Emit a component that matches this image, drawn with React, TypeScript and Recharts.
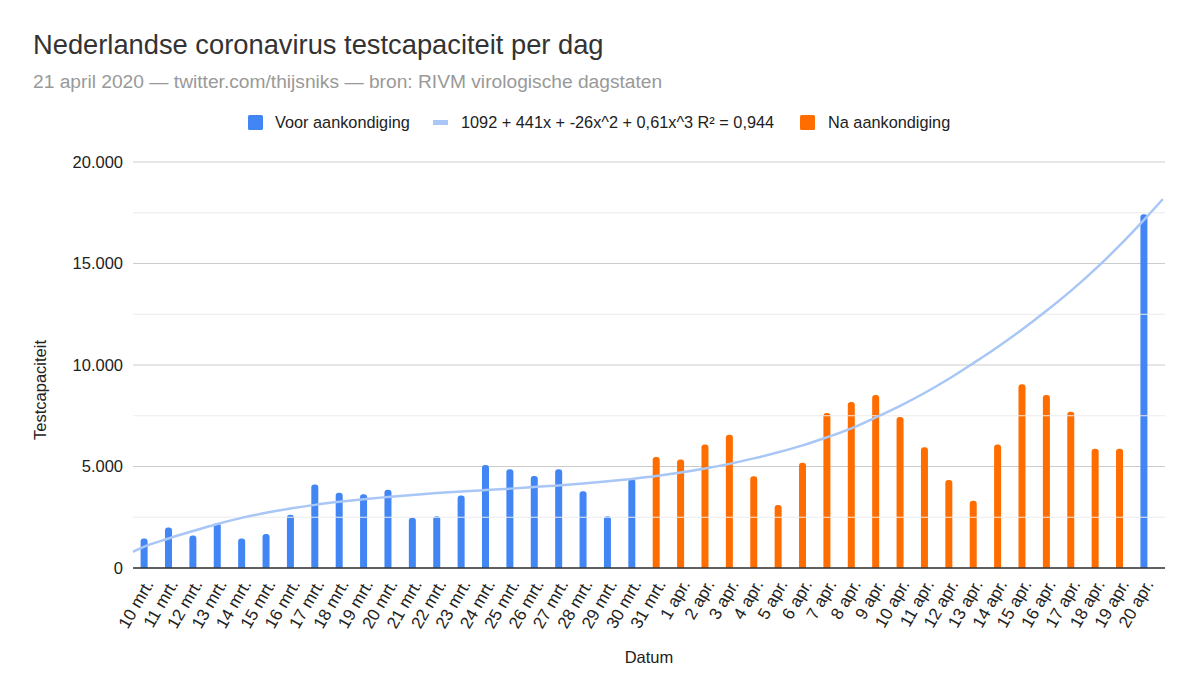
import {
  ComposedChart,
  Bar,
  Line,
  XAxis,
  YAxis,
  CartesianGrid,
  ReferenceLine,
} from "recharts";

const FONT = "'Liberation Sans', Arial, Helvetica, sans-serif";

const dates = [
  "10 mrt.", "11 mrt.", "12 mrt.", "13 mrt.", "14 mrt.", "15 mrt.", "16 mrt.",
  "17 mrt.", "18 mrt.", "19 mrt.", "20 mrt.", "21 mrt.", "22 mrt.", "23 mrt.",
  "24 mrt.", "25 mrt.", "26 mrt.", "27 mrt.", "28 mrt.", "29 mrt.", "30 mrt.",
  "31 mrt.", "1 apr.", "2 apr.", "3 apr.", "4 apr.", "5 apr.", "6 apr.",
  "7 apr.", "8 apr.", "9 apr.", "10 apr.", "11 apr.", "12 apr.", "13 apr.",
  "14 apr.", "15 apr.", "16 apr.", "17 apr.", "18 apr.", "19 apr.", "20 apr.",
];

// tests per day
const capacity = [
  1450, 2000, 1600, 2210, 1450, 1670, 2620, 4110, 3710, 3630, 3850,
  2480, 2550, 3570, 5070, 4870, 4530, 4870, 3780, 2550, 4390,
  5470, 5340, 6080, 6560, 4520, 3100, 5190, 7640, 8180, 8520,
  7440, 5950, 4330, 3310, 6080, 9050, 8520, 7700, 5880, 5880, 17420,
];

// days that count as "Na aankondiging" (31 mrt. t/m 19 apr.)
const afterAnnouncement = dates.map((_, i) => i >= 21 && i <= 40);

// polynomial trendline read at each day
const trend = [
  1050, 1450, 1820, 2170, 2470, 2720, 2930, 3110, 3260, 3390, 3500,
  3600, 3690, 3770, 3840, 3910, 3990, 4070, 4160, 4270, 4390,
  4530, 4700, 4900, 5130, 5400, 5700, 6040, 6440, 6880, 7420,
  7990, 8620, 9320, 10090, 10890, 11750, 12670, 13650, 14720, 15890, 17150,
];
// trendline where it meets the left and right edge of the plot
const trendEdges = [
  { x: -0.46, value: 800 },
  { x: 41.77, value: 18170 },
];

const yTicks = [0, 5000, 10000, 15000, 20000];
const minorLines = [2500, 7500, 12500, 17500];

const BLUE = "#4285f4";
const ORANGE = "#ff6d01";
const TREND = "#a8c6f6";

type Row = { x: number; voor?: number | null; na?: number | null; trend: number };

const rows: Row[] = [
  { x: trendEdges[0].x, trend: trendEdges[0].value },
  ...dates.map((_, i) => ({
    x: i,
    voor: afterAnnouncement[i] ? null : capacity[i],
    na: afterAnnouncement[i] ? capacity[i] : null,
    trend: trend[i],
  })),
  { x: trendEdges[1].x, trend: trendEdges[1].value },
];

const fmt = (v: number) => String(v).replace(/\B(?=(\d{3})+(?!\d))/g, ".");

function DateTick({ x, y, payload }: any) {
  const tx = x + 10;
  const ty = y + 16;
  return (
    <text
      x={tx}
      y={ty}
      transform={`rotate(-60 ${tx} ${ty})`}
      textAnchor="end"
      fontSize={17}
      fontFamily={FONT}
      fill="#222"
    >
      {dates[payload.value]}
    </text>
  );
}

export default function App() {
  return (
    <div
      style={{
        position: "absolute",
        left: 0,
        top: 0,
        width: 1200,
        height: 700,
        background: "#fff",
        fontFamily: FONT,
      }}
    >
      <ComposedChart
        width={1200}
        height={700}
        data={rows}
        margin={{ top: 162, right: 35, left: 0, bottom: 32 }}
      >
        <CartesianGrid horizontal vertical={false} stroke="#cccccc" />
        {minorLines.map((v) => (
          <ReferenceLine key={v} y={v} stroke="#ebebeb" />
        ))}
        <XAxis
          type="number"
          dataKey="x"
          domain={[-0.46, 41.86]}
          ticks={dates.map((_, i) => i)}
          interval={0}
          height={100}
          tickSize={0}
          tickMargin={0}
          tickLine={false}
          axisLine={{ stroke: "#333", strokeWidth: 1.5 }}
          tick={<DateTick />}
        />
        <YAxis
          width={133}
          domain={[0, 20000]}
          ticks={yTicks}
          tickFormatter={fmt}
          tickLine={false}
          axisLine={false}
          tickSize={0}
          tickMargin={10}
          tick={{ fontSize: 16.5, fill: "#222", fontFamily: FONT }}
        />
        <Line
          dataKey="trend"
          type="monotone"
          stroke={TREND}
          strokeWidth={2.5}
          dot={false}
          isAnimationActive={false}
        />
        <Bar dataKey="voor" stackId="a" fill={BLUE} barSize={7} radius={[3, 3, 0, 0]} isAnimationActive={false} />
        <Bar dataKey="na" stackId="a" fill={ORANGE} barSize={7} radius={[3, 3, 0, 0]} isAnimationActive={false} />
      </ComposedChart>

      <svg
        width={1200}
        height={700}
        style={{ position: "absolute", left: 0, top: 0, pointerEvents: "none" }}
        fontFamily={FONT}
      >
        <text x={33} y={54} fontSize={27.3} fill="#333">
          Nederlandse coronavirus testcapaciteit per dag
        </text>
        <text x={33} y={88} fontSize={19.2} fill="#999">
          21 april 2020 — twitter.com/thijsniks — bron: RIVM virologische dagstaten
        </text>

        <rect x={248} y={115} width={15} height={15} rx={1.5} fill={BLUE} />
        <text x={275} y={128} fontSize={16.3} fill="#222">Voor aankondiging</text>
        <rect x={433} y={120} width={15} height={5} fill={TREND} />
        <text x={461} y={128} fontSize={16.3} fill="#222">
          1092 + 441x + -26x^2 + 0,61x^3 R² = 0,944
        </text>
        <rect x={800} y={115} width={15} height={15} rx={1.5} fill={ORANGE} />
        <text x={828} y={128} fontSize={16.3} fill="#222">Na aankondiging</text>

        <text
          x={46}
          y={390}
          fontSize={16.5}
          fill="#222"
          textAnchor="middle"
          transform="rotate(-90 46 390)"
        >
          Testcapaciteit
        </text>
        <text x={649} y={663} fontSize={16.5} fill="#222" textAnchor="middle">
          Datum
        </text>
      </svg>
    </div>
  );
}
